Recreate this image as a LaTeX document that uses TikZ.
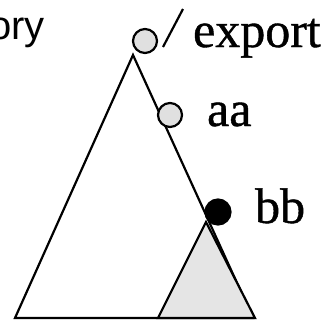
\documentclass[tikz,border=0pt]{standalone}
\usepackage{fontspec}
\setmainfont{Liberation Serif}[FakeBold=0.8]
\newfontfamily\labelsans{Liberation Sans}
\newfontfamily\labelserif{Liberation Serif}[FakeBold=0.8]
\begin{document}
\begin{tikzpicture}[x=1bp,y=-1bp,line width=2.2bp,
  edge/.style={draw=black,line width=2.2bp},
  hollow/.style={circle,draw=black,fill=black!12,line width=2.2bp,minimum size=24bp,inner sep=0pt},
  solid/.style={circle,draw=black,fill=black,line width=2.2bp,minimum size=25bp,inner sep=0pt},
  lbl/.style={inner sep=0pt,anchor=base west,font=\labelserif\fontsize{50bp}{50bp}\selectfont}]
\useasboundingbox (0,0) rectangle (332,320);
\clip (0,0) rectangle (332,320);
% big triangle
\coordinate (apex) at (133,55);
\coordinate (bl) at (15,318);
\coordinate (br) at (253,318);
\draw[edge] (apex) -- (bl) -- (br) -- cycle;
% small shaded triangle
\coordinate (sapex) at (206,222);
\coordinate (sbl) at (158,318);
\coordinate (sbr) at (255,318);
\filldraw[edge,fill=black!10] (sapex) -- (sbl) -- (sbr) -- cycle;
% nodes
\node[hollow] (root) at (145,41) {};
\node[hollow] (aa) at (170,115) {};
\node[solid] (bb) at (218,212) {};
% slash
\coordinate (s1) at (163,47);
\coordinate (s2) at (183,9);
\draw[edge] (s1) -- (s2);
% labels
\node[lbl] (export) at (192,47) {export};
\node[lbl] (aatext) at (206,126) {aa};
\node[lbl] (bbtext) at (254,223) {bb};
\node[inner sep=0pt,anchor=base east,font=\labelsans\fontsize{40bp}{40bp}\selectfont] (ory) at (46,39) {ory};
\end{tikzpicture}
\end{document}
